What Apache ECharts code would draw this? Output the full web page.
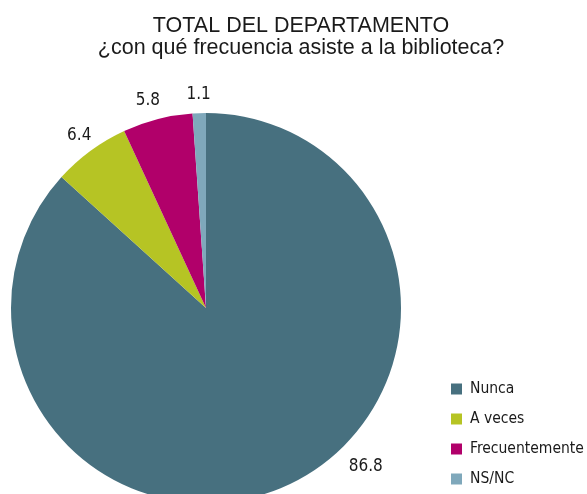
<!DOCTYPE html>
<html>
<head>
<meta charset="utf-8">
<script src="https://cdn.jsdelivr.net/npm/echarts@6/dist/echarts.min.js"></script>
<style>
  html, body { margin: 0; padding: 0; background: #ffffff; }
  #chart { width: 587px; height: 494px; }
</style>
</head>
<body>
<div id="chart"></div>
<script>
// Survey answers: how often people go to the library
const categories = ['Nunca', 'A veces', 'Frecuentemente', 'NS/NC'];
const values = [86.8, 6.4, 5.8, 1.1];
const colors = ['#47707f', '#b6c424', '#b1006a', '#7fa8bb'];

const narrowFont = "'DejaVu Sans Condensed', 'Liberation Sans Narrow', sans-serif";

const chart = echarts.init(document.getElementById('chart'), null, { renderer: 'canvas' });

chart.setOption({
  animation: false,
  backgroundColor: '#ffffff',
  color: colors,
  title: {
    text: 'TOTAL DEL DEPARTAMENTO\n¿con qué frecuencia asiste a la biblioteca?',
    left: 296,
    top: 10,
    textAlign: 'center',
    textStyle: {
      fontFamily: "'Liberation Sans', Arial, sans-serif",
      fontSize: 21.5,
      fontWeight: 'normal',
      color: '#1a1a1a',
      lineHeight: 22
    }
  },
  legend: {
    orient: 'vertical',
    left: 451,
    top: 381,
    padding: 0,
    itemWidth: 11,
    itemHeight: 11,
    itemGap: 14,
    icon: 'rect',
    data: categories,
    textStyle: {
      fontFamily: narrowFont,
      fontSize: 15.5,
      lineHeight: 16,
      color: '#1a1a1a',
      padding: [0, 0, 0, 3]
    }
  },
  series: [{
    type: 'pie',
    center: [206, 308],
    radius: 195,
    startAngle: 90,
    clockwise: true,
    avoidLabelOverlap: false,
    itemStyle: { borderWidth: 0 },
    emphasis: { disabled: true },
    label: {
      show: true,
      position: 'outside',
      formatter: p => p.value.toFixed(1),
      fontFamily: narrowFont,
      fontSize: 17,
      color: '#1a1a1a',
      distanceToLabelLine: 0
    },
    labelLine: { show: false, length: 19, length2: 0 },
    labelLayout: function (params) {
      // the large slice's value sits lower right of the pie
      if (params.dataIndex === 0) {
        return { align: 'center', dx: 73, dy: -37 };
      }
      if (params.dataIndex === 2) {
        return { align: 'center', dx: -5 };
      }
      return { align: 'center' };
    },
    data: categories.map((name, i) => ({ name: name, value: values[i] }))
  }]
});
</script>
</body>
</html>
